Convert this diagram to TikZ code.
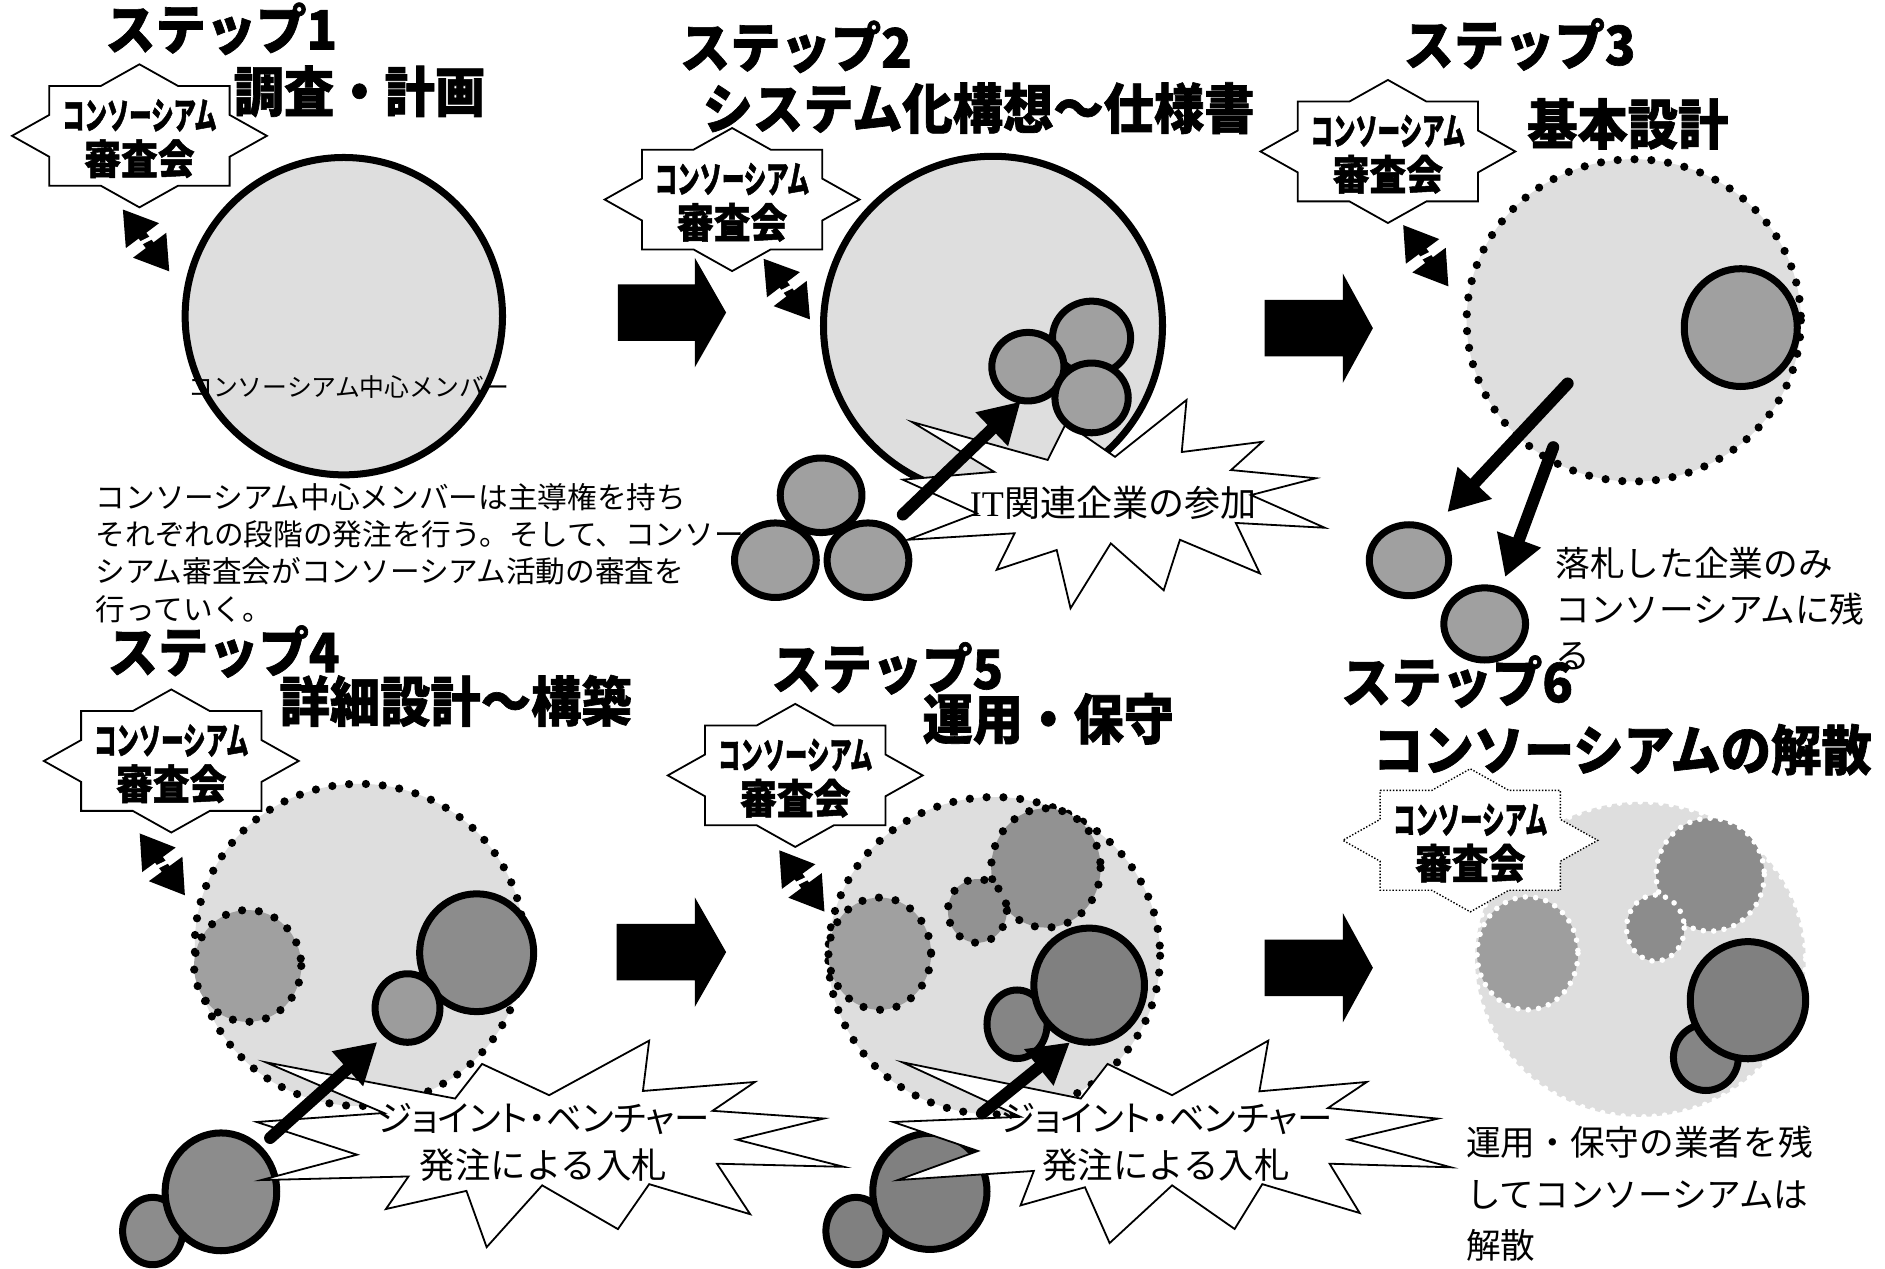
\documentclass[tikz,border=0pt]{standalone}
\usepackage{fontspec}
\setmainfont{Noto Sans CJK JP}
\newfontfamily\jpreg{Noto Sans CJK JP}
\newfontfamily\jphead{Noto Sans CJK JP}[FakeStretch=0.93,BoldFeatures={FakeBold=1.2}]
\newfontfamily\jpnarrow{Noto Sans CJK JP}[FakeStretch=0.6,BoldFeatures={FakeBold=1.2}]
\newfontfamily\jpmid{Noto Sans CJK JP}[FakeStretch=0.9,BoldFeatures={FakeBold=1.2}]
\newfontfamily\jpprop{Noto Sans CJK JP}[RawFeature=+palt]
\newfontfamily\latserif{Liberation Serif}
\usetikzlibrary{arrows.meta,calc}

\definecolor{lg}{HTML}{DEDEDE}
\definecolor{mg}{HTML}{A0A0A0}
\definecolor{dg}{HTML}{8C8C8C}
\definecolor{dgg}{HTML}{808080}

\newcommand\myhd{\jphead\bfseries\fontsize{27}{30}\selectfont}
\newcommand\mysta{\jpnarrow\bfseries\fontsize{18.6}{20}\selectfont}
\newcommand\mystb{\jpmid\bfseries\fontsize{20.4}{22}\selectfont}
\newcommand\mydesc{\jpreg\fontsize{14.8}{18.6}\selectfont}
\newcommand\myctext{\jpreg\fontsize{12.4}{14}\selectfont}
\newcommand\mybang{\jpreg\fontsize{18}{20}\selectfont}
\newcommand\myjv{\jpreg\fontsize{17.7}{23.4}\selectfont}
\newcommand\mynote{\jpreg\fontsize{17.3}{22.8}\selectfont}
\newcommand\mynoteb{\jpreg\fontsize{17.3}{25.8}\selectfont}

% review-board star: #1 extra style, #2 name, #3 x, #4 y
\newcommand\revstar[4][]{%
 \begin{scope}[shift={(#3,#4)}]
  \draw[starbox,#1] (-75,-41.5) -- (-32.1,-41.5) -- (0,-59.5) -- (32.1,-41.5) -- (75,-41.5)
   -- (75,-17.4) -- (106,0) -- (75,17.4) -- (75,41.5) -- (32.1,41.5) -- (0,59.5)
   -- (-32.1,41.5) -- (-75,41.5) -- (-75,17.4) -- (-106,0) -- (-75,-17.4) -- cycle;
  \node[txt] (#2a) at (0,-17) {\mysta コンソーシアム};
  \node[txt] (#2b) at (0,19) {\mystb 審査会};
 \end{scope}}

% double arrow: name, x1, y1, x2, y2
\newcommand\dblarrow[5]{%
 \coordinate (#1s) at (#2,#3);
 \coordinate (#1e) at (#4,#5);
 \coordinate (#1m) at ($(#1s)!0.5!(#1e)$);
 \draw[dbl] (#1s) -- (#1e);
 \draw[white,line width=1.8pt] ($(#1m)!8pt!80:(#1e)$) -- ($(#1m)!8pt!-100:(#1e)$);}

\begin{document}
\begin{tikzpicture}[x=0.6pt,y=-0.6pt,
  txt/.style={inner sep=0pt,outer sep=0pt},
  ringc/.style={draw=black,line width=3.5pt,fill=#1},
  dotc/.style={draw=black,fill=#1,line width=4.1pt,line cap=round,dash pattern=on 0pt off 8.4pt},
  wdotc/.style={draw=white,fill=#1,line width=2.8pt,line cap=round,dash pattern=on 0pt off 5.2pt},
  starbox/.style={draw=black,fill=white,line width=0.9pt},
  bang/.style={draw=black,fill=white,line width=0.9pt,line join=miter},
  ptr/.style={line width=6pt,line cap=round,-{Triangle[length=20pt,width=22pt]}},
  dbl/.style={line width=4.8pt,{Triangle[length=16.5pt,width=19.5pt]}-{Triangle[length=16.5pt,width=19.5pt]}},
  blockarrow/.style={fill=black}]

\useasboundingbox (0,0) rectangle (1568,1055);
\fill[white] (0,0) rectangle (1568,1055);

% ---------------- Panel 1 ----------------
\draw[ringc=lg] (286,263) circle[radius=132];
\node[txt] (c1t) at (290,322) {\myctext コンソーシアム中心メンバー};
\revstar{s1}{116}{113}
\dblarrow{d1}{102}{174}{141}{226}
\node[txt] (h1a) at (184,24) {\myhd ステップ1};
\node[txt] (h1b) at (299,76) {\myhd 調査・計画};
\node[txt,anchor=west,align=left,font=\mydesc] (desc) at (79.6,460)
 {コンソーシアム中心メンバーは主導権を持ち\\それぞれの段階の発注を行う。そして、コンソー\\シアム審査会がコンソーシアム活動の審査を\\行っていく。};

% block arrow 1->2
\fill[blockarrow] (514,236.5) -- (578,236.5) -- (578,214.5) -- (604,260) -- (578,305.5) -- (578,283.5) -- (514,283.5) -- cycle;

% ---------------- Panel 2 ----------------
\draw[ringc=lg] (826,271) circle[radius=141];
\draw[bang] (758.6,351) -- (871.5,382.6) -- (886.8,352) -- (927.5,380) -- (987,332.7) -- (983,376)
 -- (1050,367.5) -- (1024,391) -- (1094.6,397.8) -- (1040.6,411.8) -- (1102,439) -- (1028,435)
 -- (1048,477) -- (981.5,449) -- (968,491) -- (924,452) -- (890.5,506) -- (879,457.5)
 -- (829,474) -- (844,443.6) -- (755,449) -- (812.5,427) -- (751,399) -- (827,392.5) -- cycle;
\node[txt] (bang2) at (926,418) {{\latserif\fontsize{18}{20}\selectfont IT}{\mybang 関連企業の参加}};
\draw[ringc=mg] (908,281) ellipse[x radius=32.5,y radius=30.5];
\draw[ringc=mg] (855,305) ellipse[x radius=30,y radius=28.5];
\draw[ringc=mg] (908,331) ellipse[x radius=30.5,y radius=29];
\draw[ringc=mg] (683,412) ellipse[x radius=34,y radius=31];
\draw[ringc=mg] (645,466) ellipse[x radius=34,y radius=31];
\draw[ringc=mg] (722,466) ellipse[x radius=34,y radius=31];
\coordinate (a2s) at (751,428);
\coordinate (a2e) at (849,334);
\draw[ptr] (a2s) -- (a2e);
\revstar{s2}{609}{166}
\dblarrow{d2}{635}{215}{674}{266}
\node[txt] (h2a) at (662,39) {\myhd ステップ2};
\node[txt] (h2b) at (814,90) {\myhd システム化構想～仕様書};

% block arrow 2->3
\fill[blockarrow] (1052,249.5) -- (1117,249.5) -- (1117,227.5) -- (1142,273) -- (1117,318.5) -- (1117,296.5) -- (1052,296.5) -- cycle;

% ---------------- Panel 3 ----------------
\draw[dotc=lg] (1359,266.5) ellipse[x radius=139,y radius=134];
\draw[ringc=mg] (1448,272.5) ellipse[x radius=47,y radius=49];
\coordinate (a3s) at (1304,319);
\coordinate (a3e) at (1204,426);
\coordinate (a4s) at (1292,372);
\coordinate (a4e) at (1252,480);
\draw[ptr] (a3s) -- (a3e);
\draw[ptr] (a4s) -- (a4e);
\draw[ringc=mg] (1172,466) ellipse[x radius=33,y radius=29.5];
\draw[ringc=mg] (1235,519) ellipse[x radius=34,y radius=30];
\node[txt,anchor=west,align=left,font=\mynote] (note3) at (1294,506.4)
 {落札した企業のみ\\コンソーシアムに残\\る};
\revstar{s3}{1154.5}{126}
\dblarrow{d3}{1167}{187}{1205}{238.5}
\node[txt] (h3a) at (1264,37) {\myhd ステップ3};
\node[txt] (h3b) at (1354,103) {\myhd 基本設計};

% ---------------- Panel 4 ----------------
\draw[dotc=lg] (299,786) ellipse[x radius=137,y radius=134];
\draw[dotc=mg] (206,803.5) ellipse[x radius=44.6,y radius=46.5];
\draw[ringc=dg] (396.5,792.5) ellipse[x radius=47.4,y radius=49];
\draw[ringc=mg!80!dg] (339,838.5) ellipse[x radius=27,y radius=28.5];
\draw[ringc=dg] (127,1024) ellipse[x radius=25,y radius=28];
\draw[ringc=dg] (183.8,991.4) ellipse[x radius=46.4,y radius=49];
\draw[bang] (221,883.6) -- (378.6,913.8) -- (401,885) -- (456.8,911) -- (540,865.6) -- (534.8,907.5)
 -- (628,900) -- (592.7,924) -- (685.4,930.4) -- (613,948) -- (702,970.6) -- (596.4,968)
 -- (624,1010) -- (540,985) -- (514,1022.4) -- (451,986) -- (404.8,1037.4) -- (388,990.6)
 -- (321,1005.7) -- (339.8,978.6) -- (217.3,981.6) -- (297,960.5) -- (213.5,933.3) -- (319.4,925.8) -- cycle;
\node[txt,align=center,font=\myjv] (bang4) at (452,950.5) {{\jpprop ジョイント・ベンチャー}\\発注による入札};
\coordinate (a5s) at (224.7,946.6);
\coordinate (a5e) at (313.8,866.8);
\draw[ptr] (a5s) -- (a5e);
\revstar{s4}{142.5}{633}
\dblarrow{d4}{116}{693}{154}{745}
\node[txt] (h4a) at (186,542) {\myhd ステップ4};
\node[txt] (h4b) at (379,583) {\myhd 詳細設計～構築};

% block arrow 4->5
\fill[blockarrow] (513,768.5) -- (578,768.5) -- (578,746.5) -- (604,792) -- (578,837.5) -- (578,815.5) -- (513,815.5) -- cycle;

% ---------------- Panel 5 ----------------
\draw[dotc=lg] (827,795) ellipse[x radius=138,y radius=132];
\draw[dotc=mg] (731.8,793.3) ellipse[x radius=42.7,y radius=46.7];
\draw[dotc=dg!70!mg] (870,722) ellipse[x radius=45.5,y radius=49.6];
\draw[dotc=dg!70!mg] (813,757.7) ellipse[x radius=24.5,y radius=26.5];
\draw[ringc=dgg!60!dg] (846,852) ellipse[x radius=25,y radius=28.5];
\draw[ringc=dgg] (906,819.5) ellipse[x radius=46,y radius=47.5];
\draw[ringc=dgg] (712,1024) ellipse[x radius=25,y radius=28];
\draw[ringc=dgg] (773.5,991) ellipse[x radius=47.5,y radius=48.3];
\draw[bang] (750.5,883.6) -- (899,913.8) -- (921.3,885) -- (975,911) -- (1055,865.6) -- (1047.6,907.8)
 -- (1137,900) -- (1104.6,921.7) -- (1196,930.5) -- (1121.7,948) -- (1207,971) -- (1106,968)
 -- (1131,1009) -- (1050,985) -- (1027,1022.3) -- (975,986) -- (923,1034) -- (902.5,987.6)
 -- (848.9,1002.7) -- (860,974) -- (746.8,981.6) -- (813.5,957.4) -- (743,933.3) -- (848.8,929) -- cycle;
\node[txt,align=center,font=\myjv] (bang5) at (970,950.5) {{\jpprop ジョイント・ベンチャー}\\発注による入札};
\coordinate (a6s) at (817,926);
\coordinate (a6e) at (890,867);
\draw[ptr] (a6s) -- (a6e);
\revstar{s5}{661.5}{645}
\dblarrow{d5}{648}{707}{686}{758.6}
\node[txt] (h5a) at (738,556) {\myhd ステップ5};
\node[txt] (h5b) at (872,598) {\myhd 運用・保守};

% block arrow 5->6
\fill[blockarrow] (1052,781.5) -- (1117,781.5) -- (1117,759.5) -- (1142,805) -- (1117,850.5) -- (1117,828.5) -- (1052,828.5) -- cycle;

% ---------------- Panel 6 ----------------
\draw[wdotc=lg] (1364.5,798) ellipse[x radius=137.5,y radius=131];
\draw[wdotc=mg!90!dg] (1270.6,793) ellipse[x radius=42,y radius=47];
\draw[wdotc=dg] (1422.6,727.6) ellipse[x radius=45,y radius=47];
\draw[wdotc=dg] (1377,772) ellipse[x radius=24,y radius=27.5];
\draw[ringc=dgg!60!dg] (1419,879.5) ellipse[x radius=27,y radius=27.6];
\draw[ringc=dgg] (1454,832) ellipse[x radius=48,y radius=48.7];
\revstar[dash pattern=on 0.7pt off 0.9pt,line width=0.7pt]{s6}{1223}{699}
\node[txt,anchor=west,align=left,font=\mynoteb] (note6) at (1219.5,993)
 {運用・保守の業者を残\\してコンソーシアムは\\解散};
\node[txt] (h6a) at (1212,567) {\myhd ステップ6};
\node[txt] (h6b) at (1349.5,623.6) {\myhd コンソーシアムの解散};

\end{tikzpicture}
\end{document}
